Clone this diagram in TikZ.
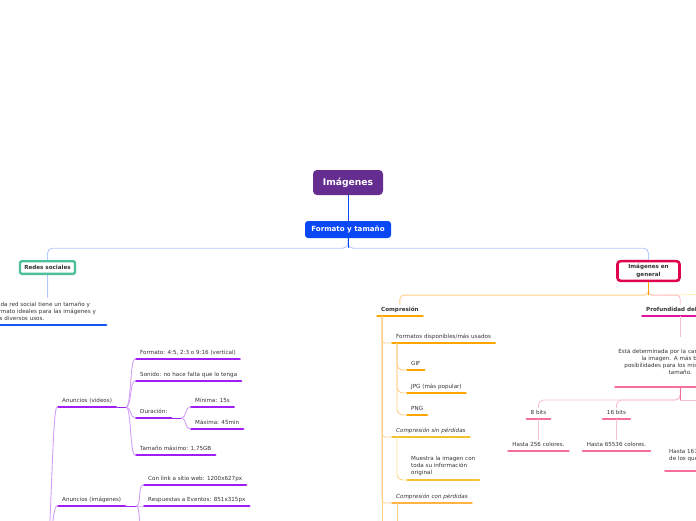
\documentclass[tikz,border=0pt]{standalone}
\usepackage{fontspec}
\setmainfont{DejaVu Sans}
\usepackage{xcolor}
\definecolor{root-purple}{HTML}{662D91}
\definecolor{main-blue}{HTML}{0A47F5}
\definecolor{link-blue}{HTML}{B3C6FF}
\definecolor{social-teal}{HTML}{4DBF9B}
\definecolor{general-red}{HTML}{E0044E}
\definecolor{note-blue}{HTML}{1456F0}
\definecolor{ad-purple}{HTML}{A11EF2}
\definecolor{ad-light}{HTML}{D19EF8}
\definecolor{comp-orange}{HTML}{FFA500}
\definecolor{comp-light}{HTML}{FFD08A}
\definecolor{lossless-gold}{HTML}{F2C12E}
\definecolor{lossless-light}{HTML}{F8DC8C}
\definecolor{lossy-orange}{HTML}{FFB347}
\definecolor{depth-magenta}{HTML}{E2129E}
\definecolor{depth-pink}{HTML}{F46D9B}
\definecolor{depth-light}{HTML}{F9C0D3}
\definecolor{next-yellow}{HTML}{FFF0B3}
\definecolor{text-gray}{HTML}{333333}

\begin{document}
\begin{tikzpicture}[x=1pt, y=-1pt,
    every node/.style={font=\fontsize{5.6}{7.3}\selectfont, text=text-gray},
    uline/.style={append after command={(\tikzlastnode.south west)
        edge[draw=#1, line width=2.4pt, line cap=round,
             shorten <=1.2pt, shorten >=1.2pt] (\tikzlastnode.south east)}},
    topic/.style={uline=#1, anchor=south west, inner xsep=5pt, inner ysep=2.6pt,
        text height=4.2pt, text depth=1.4pt},
    note/.style={uline=#1, inner xsep=5pt, inner ysep=4pt},
    conn/.style={draw=#1, line width=0.9pt}]
  \useasboundingbox (0,0) rectangle (696,520);
  \clip (0,0) rectangle (696,520);

  % central topics
  \node[fill=root-purple, rounded corners=4pt, minimum width=70pt,
        minimum height=25pt, text=white,
        font=\fontsize{9.2}{11}\selectfont\bfseries] (img) at (348,182.5) {Imágenes};
  \node[fill=main-blue, rounded corners=3pt, minimum width=86pt,
        minimum height=17pt, text=white,
        font=\fontsize{7.1}{8.5}\selectfont\bfseries] (fyt) at (348,229.5) {Formato y tamaño};
  \node[draw=social-teal, line width=2.4pt, fill=white, rounded corners=2pt,
        minimum width=55pt, minimum height=12.6pt] (rs) at (47.5,267.5)
        {\textbf{Redes sociales}};
  \node[draw=general-red, line width=2.6pt, fill=white, rounded corners=3pt,
        minimum width=62pt, minimum height=19.5pt, align=center] (ige)
        at (648.5,271) {\textbf{Imágenes en}\\\textbf{general}};
  \draw[conn=main-blue] (img.south) -- (fyt.north);
  \draw[conn=link-blue, rounded corners=5pt] (fyt.south) -- ++(0,10) -| (rs.north);
  \draw[conn=link-blue, rounded corners=5pt] (fyt.south) -- ++(0,10) -| (ige.north);
  \draw[conn=main-blue] (fyt.south) -- ++(0,10);

  % redes sociales
  \node[note=note-blue, anchor=south west, text width=109pt, align=left]
        (cada) at (-12,325) {Cada red social tiene un tamaño y\\formato ideales
        para las imágenes y\\sus diversos usos.};
  \draw[conn=link-blue] (rs.south) -- (cada.north);

  \coordinate (adroot) at (46,560);
  \node[topic=ad-purple] (av) at (57,407) {Anuncios (videos)};
  \node[topic=ad-purple] (fmt) at (135,359) {Formato: 4:5, 2:3 o 9:16 (vertical)};
  \node[topic=ad-purple] (son) at (135,381) {Sonido: no hace falta que lo tenga};
  \node[topic=ad-purple] (dur) at (135,418) {Duración:};
  \node[topic=ad-purple] (mini) at (190,407) {Mínima: 15s};
  \node[topic=ad-purple] (maxi) at (190,429) {Máxima: 45min};
  \node[topic=ad-purple] (tam) at (135,455) {Tamaño máximo: 1,75GB};
  \node[topic=ad-purple] (ai) at (57,506) {Anuncios (imágenes)};
  \node[topic=ad-purple] (link) at (143,485) {Con link a sitio web: 1200x627px};
  \node[topic=ad-purple] (resp) at (143,506) {Respuestas a Eventos: 851x315px};
  \coordinate (aimore) at (143,545);

  \foreach \n in {av,ai}
    \draw[conn=ad-light] (adroot) .. controls +(5,0) and +(-5,0) .. (\n.south west);
  \draw[conn=ad-purple] (av.south east) -- ++(9,0) coordinate (avj);
  \foreach \n in {fmt,son,dur,tam}
    \draw[conn=ad-light] (avj) .. controls +(5,0) and +(-5,0) .. (\n.south west);
  \draw[conn=ad-purple] (dur.south east) -- ++(9,0) coordinate (durj);
  \foreach \n in {mini,maxi}
    \draw[conn=ad-light] (durj) .. controls +(5,0) and +(-5,0) .. (\n.south west);
  \draw[conn=ad-purple] (ai.south east) -- ++(10,0) coordinate (aij);
  \foreach \n in {link,resp,aimore}
    \draw[conn=ad-light] (aij) .. controls +(5,0) and +(-5,0) .. (\n.south west);

  % compresion
  \node[topic=comp-orange] (compr) at (376,316) {\textbf{Compresión}};
  \node[topic=comp-orange] (fmts) at (391,343) {Formatos disponibles/más usados};
  \node[topic=comp-orange] (gif) at (406,370) {GIF};
  \node[topic=comp-orange] (jpg) at (406,393) {JPG (más popular)};
  \node[topic=comp-orange] (png) at (406,415) {PNG};
  \node[topic=lossless-gold] (csp) at (391,437) {\textit{Compresión sin pérdidas}};
  \node[note=lossless-gold, anchor=south west, align=left] (mues) at (406,480)
        {Muestra la imagen con\\toda su información\\original};
  \node[topic=lossy-orange] (ccp) at (391,503) {\textit{Compresión con pérdidas}};
  \coordinate (comprmore) at (382,545);
  \coordinate (ccpmore) at (397,545);

  \draw[conn=comp-light] ([xshift=6pt]compr.south west) -- (comprmore);
  \foreach \n in {fmts,csp,ccp}
    \draw[conn=comp-light, rounded corners=3pt] ([xshift=6pt]compr.south west) |- (\n.south west);
  \foreach \n in {gif,jpg,png}
    \draw[conn=comp-light, rounded corners=6pt] ([xshift=6pt]fmts.south west) |- (\n.south west);
  \draw[conn=lossless-light, rounded corners=6pt] ([xshift=6pt]csp.south west) |- (mues.south west);
  \draw[conn=comp-light] ([xshift=6pt]ccp.south west) -- (ccpmore);

  % profundidad del color
  \node[topic=depth-magenta] (prof) at (641,316) {\textbf{Profundidad del color}};
  \node[uline=depth-pink, anchor=south, text width=128pt, align=center,
        inner xsep=2pt, inner ysep=0pt, minimum height=50pt] (desc)
        at (prof.south |- 0,387) {Está determinada por la cantidad de bits de\\la
        imagen. A más bits, más\\posibilidades para los mismos colores y\\tamaño.};
  \node[topic=depth-pink, anchor=south] (eight) at (538.5,419) {8 bits};
  \node[topic=depth-pink, anchor=south] (h256) at (eight.south |- 0,451) {Hasta 256 colores.};
  \node[topic=depth-pink, anchor=south] (sixteen) at (616.5,419) {16 bits};
  \node[topic=depth-pink, anchor=south] (h65536) at (sixteen.south |- 0,451) {Hasta 65536 colores.};
  \node[note=depth-pink, anchor=south west, align=left, inner ysep=9pt]
        (h167) at (664,471) {Hasta 16777216 colores,\\de los que};
  \coordinate (igemore) at (760,294);
  \coordinate (descmore) at (760,400);

  \draw[conn=next-yellow] (ige.south) -- ++(0,13) -- (igemore);
  \draw[conn=comp-light, rounded corners=4pt] (ige.south) -- ++(0,13) -| (compr.north);
  \draw[conn=depth-light, rounded corners=4pt] (ige.south) -- ++(0,13) -| (prof.north);
  \draw[conn=comp-orange] (ige.south) -- ++(0,13);
  \draw[conn=depth-light] (prof.south) -- (desc.north);
  \draw[conn=depth-light] (desc.south) -- ++(0,13) -- (descmore);
  \foreach \n in {eight,sixteen}
    \draw[conn=depth-light, rounded corners=5pt] (desc.south) -- ++(0,13) -| (\n.north);
  \draw[conn=depth-pink] (desc.south) -- ++(0,13);
  \draw[conn=depth-light] (eight.south) -- (h256.north);
  \draw[conn=depth-light] (sixteen.south) -- (h65536.north);
\end{tikzpicture}
\end{document}
